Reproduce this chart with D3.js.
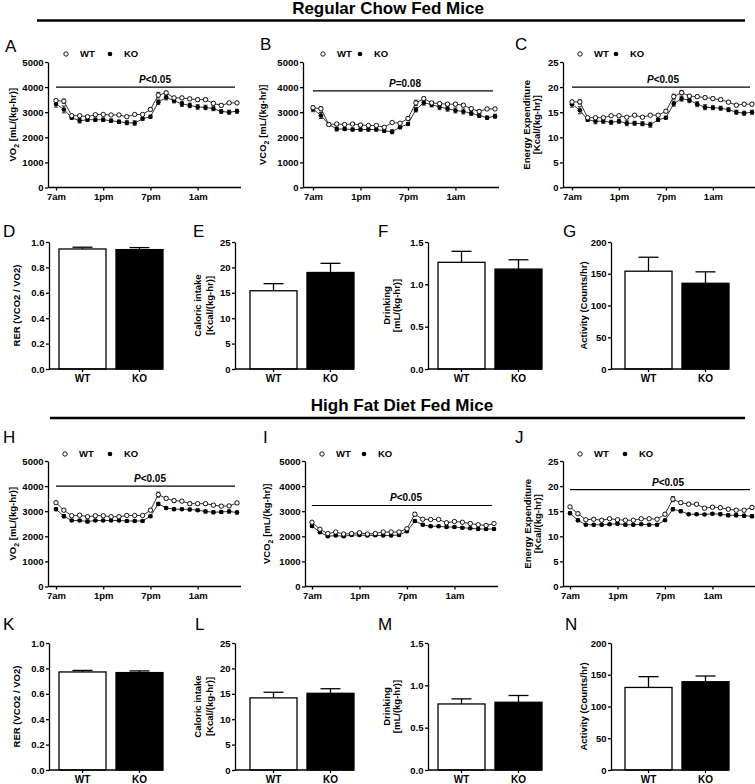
<!DOCTYPE html>
<html><head><meta charset="utf-8">
<script src="https://cdn.jsdelivr.net/npm/d3@7"></script>
<style>
body{margin:0;background:#fff;}
svg{display:block;font-family:"Liberation Sans",Arial,Helvetica,sans-serif;}
</style></head><body>
<svg id="fig" width="755" height="784"></svg>
<script>
// ---------- data ----------
const timeTicks = [0, 6, 12, 18];
const timeLabels = ["7am", "1pm", "7pm", "1am"];
const groups = ["WT", "KO"];
const sectionTitles = ["Regular Chow Fed Mice", "High Fat Diet Fed Mice"];

// Regular chow, hourly 7am..6am
const chowVO2_WT = [3460,3440,2860,2860,2820,2900,2910,2890,2890,2820,2910,2910,3110,3680,3770,3570,3570,3530,3500,3500,3350,3270,3370,3370];
const chowVO2_KO = [3330,3110,2780,2660,2700,2700,2700,2660,2620,2580,2570,2740,2820,3400,3590,3460,3330,3270,3210,3190,3140,3030,3000,3040];
const chowVO2_WTerr = [60,80,50,40,40,40,40,40,40,40,40,40,60,110,70,60,60,60,60,60,60,60,60,60];
const chowVO2_KOerr = [130,140,60,90,70,70,70,70,70,80,90,60,60,90,100,90,100,90,90,90,80,70,80,80];

const chowVCO2_WT = [3180,3140,2510,2530,2510,2530,2490,2470,2470,2400,2590,2560,2750,3370,3540,3370,3340,3320,3320,3280,3140,3030,3130,3130];
const chowVCO2_KO = [3130,2870,2510,2330,2330,2310,2310,2310,2310,2260,2220,2400,2530,3100,3380,3300,3210,3140,3070,3030,2960,2870,2780,2840];
const chowVCO2_WTerr = [60,80,40,40,40,40,40,40,40,40,40,40,60,110,70,60,60,60,60,60,60,60,60,60];
const chowVCO2_KOerr = [110,120,50,80,60,60,60,60,60,70,80,60,60,90,100,90,110,100,100,100,90,80,70,80];

const chowEE_WT = [17.05,17.05,13.9,13.9,13.9,14.3,14.3,14.0,14.4,14.0,14.4,14.4,15.2,18.1,18.9,18.2,18.1,17.9,17.7,17.5,17.0,16.4,16.6,16.6];
const chowEE_KO = [16.6,15.4,13.5,13.2,13.2,13.0,13.2,12.8,12.8,12.7,12.5,13.5,13.9,16.7,17.7,17.4,16.6,16.0,15.9,15.8,15.5,15.0,14.8,15.0];
const chowEE_WTerr = [0.3,0.4,0.2,0.2,0.2,0.2,0.2,0.2,0.2,0.2,0.2,0.2,0.3,0.5,0.4,0.3,0.3,0.3,0.3,0.3,0.3,0.3,0.3,0.3];
const chowEE_KOerr = [0.6,0.7,0.3,0.5,0.4,0.4,0.4,0.5,0.4,0.4,0.5,0.3,0.3,0.5,0.5,0.5,0.5,0.5,0.4,0.4,0.4,0.4,0.4,0.4];

// High fat diet, hourly 7am..6am
const hfdVO2_WT = [3340,3040,2820,2840,2780,2820,2820,2780,2780,2830,2830,2830,3040,3660,3510,3420,3400,3300,3300,3300,3240,3200,3210,3330];
const hfdVO2_KO = [3080,2800,2630,2630,2590,2630,2630,2630,2630,2610,2610,2610,2800,3290,3130,3080,3080,3070,3040,2990,2960,2970,2990,2950];
const hfdVO2_WTerr = [50,50,40,40,40,40,40,40,40,40,40,40,60,100,60,60,50,60,50,50,50,50,50,60];
const hfdVO2_KOerr = [60,60,40,40,60,40,40,40,40,40,40,40,40,60,50,50,50,50,50,60,60,60,60,60];

const hfdVCO2_WT = [2560,2280,2110,2170,2090,2110,2140,2090,2110,2170,2170,2170,2300,2880,2680,2670,2670,2540,2590,2560,2510,2460,2430,2510];
const hfdVCO2_KO = [2410,2160,2000,2030,2000,2050,2050,2030,2040,2030,2030,2050,2200,2610,2460,2400,2400,2370,2370,2340,2320,2290,2290,2290];
const hfdVCO2_WTerr = [40,40,30,30,30,30,30,30,30,30,30,30,40,70,40,40,40,40,40,40,40,40,40,40];
const hfdVCO2_KOerr = [40,40,40,40,40,40,40,40,40,40,40,40,40,50,40,40,40,40,40,40,40,40,40,40];

const hfdEE_WT = [15.85,14.5,13.3,13.4,13.2,13.5,13.3,13.2,13.2,13.5,13.5,13.4,14.4,17.4,16.7,16.4,16.4,15.6,15.8,15.7,15.4,15.2,15.2,15.75];
const hfdEE_KO = [14.6,13.2,12.3,12.3,12.3,12.4,12.5,12.3,12.3,12.4,12.3,12.3,13.2,15.4,15.0,14.4,14.4,14.35,14.5,14.4,14.2,14.2,14.1,14.0];
const hfdEE_WTerr = [0.3,0.3,0.2,0.2,0.2,0.2,0.2,0.2,0.2,0.2,0.2,0.2,0.3,0.5,0.3,0.3,0.3,0.3,0.3,0.3,0.3,0.3,0.3,0.3];
const hfdEE_KOerr = [0.3,0.3,0.2,0.2,0.2,0.2,0.2,0.2,0.2,0.2,0.2,0.2,0.2,0.3,0.3,0.2,0.2,0.2,0.2,0.3,0.3,0.3,0.3,0.3];

// Bar panels [WT, KO]
const chowRER = [0.945, 0.940], chowRERerr = [0.014, 0.016];
const chowCal = [15.4, 19.0], chowCalErr = [1.4, 1.8];
const chowDrink = [1.26, 1.18], chowDrinkErr = [0.13, 0.11];
const chowAct = [154, 135], chowActErr = [22, 18];
const hfdRER = [0.772, 0.767], hfdRERerr = [0.012, 0.013];
const hfdCal = [14.2, 15.1], hfdCalErr = [1.1, 0.9];
const hfdDrink = [0.78, 0.80], hfdDrinkErr = [0.06, 0.08];
const hfdAct = [130, 139], hfdActErr = [17, 9];

// ---------- drawing ----------
const svg = d3.select("#fig");
const FONT_TICK = 9.5;

function styleAxis(a, fs){
  a.attr("font-family", null).attr("font-size", null);
  a.selectAll("path, line").attr("stroke", "#000").attr("stroke-width", 1.3);
  a.selectAll("text").attr("font-size", fs).attr("font-weight", "bold").attr("fill", "#000");
}

function letter(t, x, y){
  svg.append("text").attr("x", x).attr("y", y).attr("font-size", 17).text(t);
}

function yLabel(lines, xs, cy){
  lines.forEach((segs, i) => {
    const t = svg.append("text")
      .attr("transform", `translate(${xs[i]},${cy}) rotate(-90)`)
      .attr("text-anchor", "middle").attr("dy", "0.35em")
      .attr("font-size", 9.5).attr("font-weight", "bold");
    segs.forEach(s => {
      if (s.sub) {
        t.append("tspan").attr("font-size", 7).attr("dy", 2.5).text(s.t);
      } else if (s.after) {
        t.append("tspan").attr("dy", -2.5).text(s.t);
      } else {
        t.append("tspan").text(s.t);
      }
    });
  });
}

function lineChart(c){
  const g = svg.append("g");
  const x = d3.scaleLinear().domain([0, 23]).range([c.xFirst, c.xLast]);
  const y = d3.scaleLinear().domain([0, c.yMax]).range([c.yBottom, c.yTop]);

  const ya = g.append("g").attr("transform", `translate(${c.axisX},0)`)
    .call(d3.axisLeft(y).tickValues(c.yTicks).tickSize(3).tickSizeOuter(0).tickPadding(1.5).tickFormat(d3.format("d")));
  styleAxis(ya, FONT_TICK);

  const xa = g.append("g").attr("transform", `translate(0,${c.yBottom})`)
    .call(d3.axisBottom(x).tickValues(timeTicks).tickFormat((d, i) => timeLabels[i]).tickSize(3).tickPadding(3));
  xa.select(".domain").remove();
  styleAxis(xa, FONT_TICK);
  g.append("line").attr("x1", c.axisX).attr("x2", c.xLast + 4)
    .attr("y1", c.yBottom).attr("y2", c.yBottom).attr("stroke", "#000").attr("stroke-width", 1.3);

  // significance bar
  g.append("line").attr("x1", c.xFirst).attr("x2", c.xLast - 2)
    .attr("y1", y(c.pVal)).attr("y2", y(c.pVal)).attr("stroke", "#000").attr("stroke-width", 1.1);
  const pt = g.append("text").attr("x", c.pX).attr("y", y(c.pVal) - 4)
    .attr("text-anchor", "middle").attr("font-size", 10).attr("font-weight", "bold");
  pt.append("tspan").attr("font-style", "italic").text("P");
  pt.append("tspan").text(c.pText);

  const line = d3.line().x((d, i) => x(i)).y(d => y(d));
  [c.wt, c.ko].forEach(s => {
    g.append("path").datum(s).attr("d", line).attr("fill", "none")
      .attr("stroke", "#000").attr("stroke-width", 0.8);
  });
  // error bars
  [[c.wt, c.wtErr], [c.ko, c.koErr]].forEach(([s, e]) => {
    s.forEach((v, i) => {
      const cx = x(i);
      g.append("line").attr("x1", cx).attr("x2", cx).attr("y1", y(v - e[i])).attr("y2", y(v + e[i]))
        .attr("stroke", "#000").attr("stroke-width", 0.8);
      [v - e[i], v + e[i]].forEach(w => g.append("line").attr("x1", cx - 2).attr("x2", cx + 2)
        .attr("y1", y(w)).attr("y2", y(w)).attr("stroke", "#000").attr("stroke-width", 0.8));
    });
  });
  g.selectAll(null).data(c.ko).join("circle").attr("cx", (d, i) => x(i)).attr("cy", d => y(d))
    .attr("r", 2.3).attr("fill", "#000");
  g.selectAll(null).data(c.wt).join("circle").attr("cx", (d, i) => x(i)).attr("cy", d => y(d))
    .attr("r", 2.2).attr("fill", "#fff").attr("stroke", "#000").attr("stroke-width", 0.9);

  // legend
  g.append("circle").attr("cx", c.legX[0]).attr("cy", c.legY).attr("r", 2.2)
    .attr("fill", "#fff").attr("stroke", "#000").attr("stroke-width", 0.9);
  g.append("text").attr("x", c.legX[0] + 14).attr("y", c.legY).attr("dy", "0.35em")
    .attr("font-size", 9.5).attr("font-weight", "bold").text(groups[0]);
  g.append("circle").attr("cx", c.legX[1]).attr("cy", c.legY).attr("r", 2.3).attr("fill", "#000");
  g.append("text").attr("x", c.legX[1] + 14).attr("y", c.legY).attr("dy", "0.35em")
    .attr("font-size", 9.5).attr("font-weight", "bold").text(groups[1]);

  letter(c.letter, c.lx, c.ly);
  yLabel(c.ylab, c.ylabX, (c.yTop + c.yBottom) / 2);
}

function barChart(c){
  const g = svg.append("g");
  const x = d3.scaleBand().domain(groups).range([c.x0, c.x1]).paddingInner(0.175).paddingOuter(0);
  const y = d3.scaleLinear().domain([0, c.yMax]).range([c.yBottom, c.yTop]);

  // error bars (upper only)
  groups.forEach((k, i) => {
    const cx = x(k) + x.bandwidth() / 2;
    const top = y(c.vals[i] + c.errs[i]);
    g.append("line").attr("x1", cx).attr("x2", cx).attr("y1", y(c.vals[i])).attr("y2", top)
      .attr("stroke", "#000").attr("stroke-width", 1.3);
    g.append("line").attr("x1", cx - 10).attr("x2", cx + 10).attr("y1", top).attr("y2", top)
      .attr("stroke", "#000").attr("stroke-width", 1.3);
  });
  g.selectAll(null).data(groups).join("rect")
    .attr("x", d => x(d)).attr("width", x.bandwidth())
    .attr("y", (d, i) => y(c.vals[i])).attr("height", (d, i) => c.yBottom - y(c.vals[i]))
    .attr("fill", (d, i) => i === 0 ? "#fff" : "#000")
    .attr("stroke", "#000").attr("stroke-width", 1.3);

  const ya = g.append("g").attr("transform", `translate(${c.axisX},0)`)
    .call(d3.axisLeft(y).tickValues(c.ticks).tickSize(3).tickSizeOuter(0).tickPadding(1.5).tickFormat(c.fmt));
  styleAxis(ya, FONT_TICK);
  const xa = g.append("g").attr("transform", `translate(0,${c.yBottom})`)
    .call(d3.axisBottom(x).tickSize(3).tickPadding(3));
  xa.select(".domain").remove();
  styleAxis(xa, 10);
  g.append("line").attr("x1", c.axisX).attr("x2", c.x1)
    .attr("y1", c.yBottom).attr("y2", c.yBottom).attr("stroke", "#000").attr("stroke-width", 1.3);

  letter(c.letter, c.lx, c.ly);
  yLabel(c.ylab, c.ylabX, (c.yTop + c.yBottom) / 2);
}

// section titles
[[sectionTitles[0], 388, 13.5, 37, 20.5], [sectionTitles[1], 402, 411, 50, 418]].forEach(([t, tx, ty, lx, ly]) => {
  svg.append("text").attr("x", tx).attr("y", ty).attr("text-anchor", "middle")
    .attr("font-size", 17).attr("font-weight", "bold").text(t);
  svg.append("line").attr("x1", lx).attr("x2", 745).attr("y1", ly).attr("y2", ly)
    .attr("stroke", "#000").attr("stroke-width", 2.5);
});

const vo2Label = [[{t: "VO"}, {t: "2", sub: true}, {t: " [mL/(kg-hr)]", after: true}]];
const vco2Label = [[{t: "VCO"}, {t: "2", sub: true}, {t: " [mL/(kg-hr)]", after: true}]];
const eeLabel = [[{t: "Energy Expenditure"}], [{t: "[Kcal/(kg-hr)]"}]];
const rerLabel = [[{t: "RER (VCO2 / VO2)"}]];
const calLabel = [[{t: "Caloric intake"}], [{t: "[Kcal/(kg-hr)]"}]];
const drinkLabel = [[{t: "Drinking"}], [{t: "[mL/(kg-hr)]"}]];
const actLabel = [[{t: "Activity (Counts/hr)"}]];
const t5000 = [0, 1000, 2000, 3000, 4000, 5000];
const t25 = [0, 5, 10, 15, 20, 25];

// Row 1
lineChart({letter: "A", lx: 5, ly: 52, axisX: 48, xFirst: 56, xLast: 237, yTop: 62, yBottom: 187.5, yMax: 5000, yTicks: t5000,
  wt: chowVO2_WT, ko: chowVO2_KO, wtErr: chowVO2_WTerr, koErr: chowVO2_KOerr, pVal: 4000, pText: "<0.05", pX: 155,
  legX: [66, 110], legY: 54, ylab: vo2Label, ylabX: [13]});
lineChart({letter: "B", lx: 260, ly: 50, axisX: 303, xFirst: 313, xLast: 495, yTop: 62, yBottom: 187.5, yMax: 5000, yTicks: t5000,
  wt: chowVCO2_WT, ko: chowVCO2_KO, wtErr: chowVCO2_WTerr, koErr: chowVCO2_KOerr, pVal: 3850, pText: "=0.08", pX: 405,
  legX: [323, 360], legY: 54, ylab: vco2Label, ylabX: [263]});
lineChart({letter: "C", lx: 515, ly: 50, axisX: 563, xFirst: 572, xLast: 752, yTop: 62, yBottom: 187.5, yMax: 25, yTicks: t25,
  wt: chowEE_WT, ko: chowEE_KO, wtErr: chowEE_WTerr, koErr: chowEE_KOerr, pVal: 20, pText: "<0.05", pX: 663,
  legX: [580, 616], legY: 54, ylab: eeLabel, ylabX: [527, 537]});

// Row 2
barChart({letter: "D", lx: 3, ly: 237, axisX: 49, x0: 59, x1: 163, yTop: 242, yBottom: 369, yMax: 1.0,
  ticks: [0, 0.2, 0.4, 0.6, 0.8, 1.0], fmt: d3.format(".1f"), vals: chowRER, errs: chowRERerr, ylab: rerLabel, ylabX: [17]});
barChart({letter: "E", lx: 193, ly: 237, axisX: 235, x0: 250, x1: 354, yTop: 242, yBottom: 369, yMax: 25,
  ticks: t25, fmt: d3.format("d"), vals: chowCal, errs: chowCalErr, ylab: calLabel, ylabX: [198, 210]});
barChart({letter: "F", lx: 378, ly: 237, axisX: 428, x0: 438, x1: 542, yTop: 242, yBottom: 369, yMax: 1.5,
  ticks: [0, 0.5, 1.0, 1.5], fmt: d3.format(".1f"), vals: chowDrink, errs: chowDrinkErr, ylab: drinkLabel, ylabX: [387, 397]});
barChart({letter: "G", lx: 563, ly: 237, axisX: 611, x0: 625, x1: 729, yTop: 242, yBottom: 369, yMax: 200,
  ticks: [0, 50, 100, 150, 200], fmt: d3.format("d"), vals: chowAct, errs: chowActErr, ylab: actLabel, ylabX: [584]});

// Row 3
lineChart({letter: "H", lx: 3, ly: 443, axisX: 48, xFirst: 56, xLast: 237, yTop: 461, yBottom: 586.5, yMax: 5000, yTicks: t5000,
  wt: hfdVO2_WT, ko: hfdVO2_KO, wtErr: hfdVO2_WTerr, koErr: hfdVO2_KOerr, pVal: 4000, pText: "<0.05", pX: 150,
  legX: [65, 110], legY: 454, ylab: vo2Label, ylabX: [13]});
lineChart({letter: "I", lx: 263, ly: 443, axisX: 305, xFirst: 312, xLast: 494, yTop: 461, yBottom: 586.5, yMax: 5000, yTicks: t5000,
  wt: hfdVCO2_WT, ko: hfdVCO2_KO, wtErr: hfdVCO2_WTerr, koErr: hfdVCO2_KOerr, pVal: 3230, pText: "<0.05", pX: 406,
  legX: [322, 364], legY: 454, ylab: vco2Label, ylabX: [267]});
lineChart({letter: "J", lx: 515, ly: 443, axisX: 563, xFirst: 570, xLast: 752, yTop: 461, yBottom: 586.5, yMax: 25, yTicks: t25,
  wt: hfdEE_WT, ko: hfdEE_KO, wtErr: hfdEE_WTerr, koErr: hfdEE_KOerr, pVal: 19.3, pText: "<0.05", pX: 668,
  legX: [580, 625], legY: 454, ylab: eeLabel, ylabX: [528, 538]});

// Row 4
barChart({letter: "K", lx: 3, ly: 630, axisX: 49, x0: 59, x1: 163, yTop: 643, yBottom: 770, yMax: 1.0,
  ticks: [0, 0.2, 0.4, 0.6, 0.8, 1.0], fmt: d3.format(".1f"), vals: hfdRER, errs: hfdRERerr, ylab: rerLabel, ylabX: [17]});
barChart({letter: "L", lx: 195, ly: 630, axisX: 235, x0: 250, x1: 354, yTop: 643, yBottom: 770, yMax: 25,
  ticks: t25, fmt: d3.format("d"), vals: hfdCal, errs: hfdCalErr, ylab: calLabel, ylabX: [198, 210]});
barChart({letter: "M", lx: 378, ly: 630, axisX: 428, x0: 438, x1: 542, yTop: 643, yBottom: 770, yMax: 1.5,
  ticks: [0, 0.5, 1.0, 1.5], fmt: d3.format(".1f"), vals: hfdDrink, errs: hfdDrinkErr, ylab: drinkLabel, ylabX: [387, 397]});
barChart({letter: "N", lx: 565, ly: 630, axisX: 611, x0: 625, x1: 729, yTop: 643, yBottom: 770, yMax: 200,
  ticks: [0, 50, 100, 150, 200], fmt: d3.format("d"), vals: hfdAct, errs: hfdActErr, ylab: actLabel, ylabX: [584]});
</script>
</body></html>
